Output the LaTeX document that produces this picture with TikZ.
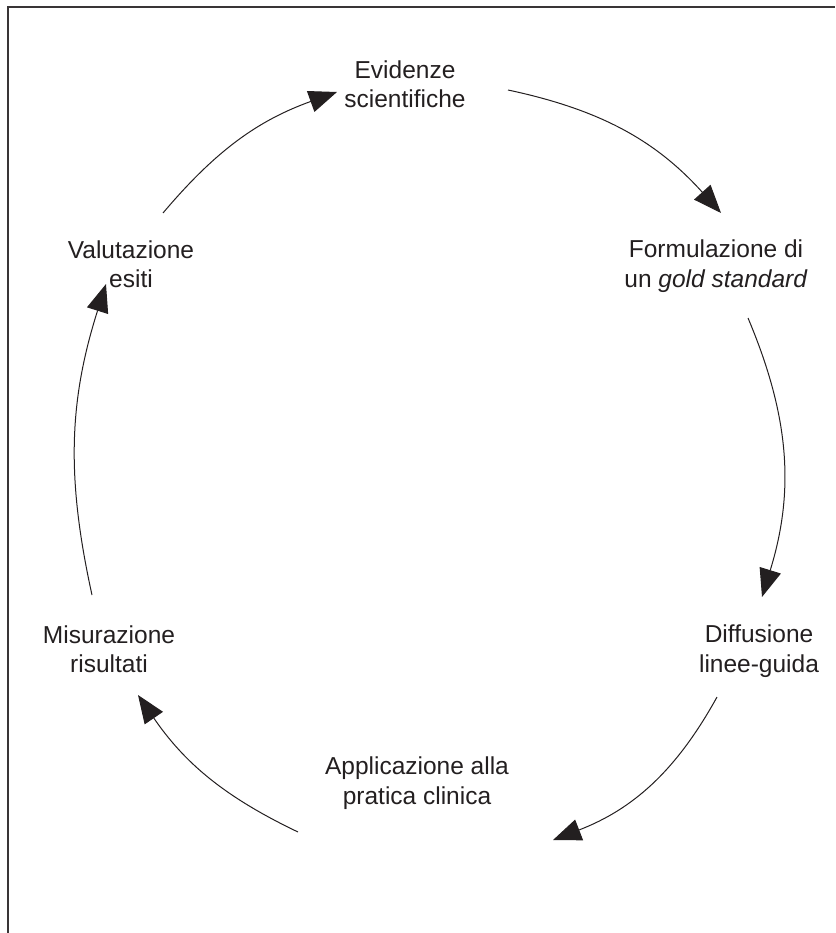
\documentclass[tikz,border=0pt]{standalone}
\usepackage{fontspec}
\setmainfont{Liberation Sans}
\usetikzlibrary{arrows.meta}
\definecolor{ink}{HTML}{231F20}
\begin{document}
\begin{tikzpicture}[x=1pt,y=1pt,
  lbl/.style={align=center,font=\fontsize{24.5}{29.5}\selectfont,text=ink,inner sep=0pt},
  flow/.style={draw=ink,line width=1pt,-{Triangle[length=28pt,width=22pt]}},
  frame/.style={draw=ink!90,line width=2pt}]
\useasboundingbox (0,-933) rectangle (835,0);
% frame (top and left edges only)
\draw[frame] (8,-933) -- (8,-7) -- (835,-7);
% labels
\node[lbl] (ev) at (405,-84)  {Evidenze\\scientifiche};
\node[lbl] (fo) at (716,-266) {Formulazione di\\un \textit{gold standard}};
\node[lbl] (di) at (759,-651) {Diffusione\\linee-guida};
\node[lbl] (ap) at (417,-783) {Applicazione alla\\pratica clinica};
\node[lbl] (mi) at (109,-649) {Misurazione\\risultati};
\node[lbl] (va) at (131,-264) {Valutazione\\esiti};
% connector end points
\coordinate (s1) at (508,-90);  \coordinate (e1) at (721,-213);
\coordinate (s2) at (748,-318); \coordinate (e2) at (762,-597);
\coordinate (s3) at (717,-697); \coordinate (e3) at (553,-840);
\coordinate (s4) at (298,-832); \coordinate (e4) at (138,-695);
\coordinate (s5) at (92,-595);  \coordinate (e5) at (106,-284);
\coordinate (s6) at (163,-213); \coordinate (e6) at (337,-92);
% connectors
\draw[flow] (s1) to[bend left=18] (e1);
\draw[flow] (s2) to[bend left=20] (e2);
\draw[flow] (s3) to[bend left=20] (e3);
\draw[flow] (s4) to[bend left=15] (e4);
\draw[flow] (s5) to[bend left=15] (e5);
\draw[flow] (s6) to[bend left=15] (e6);
\end{tikzpicture}
\end{document}
